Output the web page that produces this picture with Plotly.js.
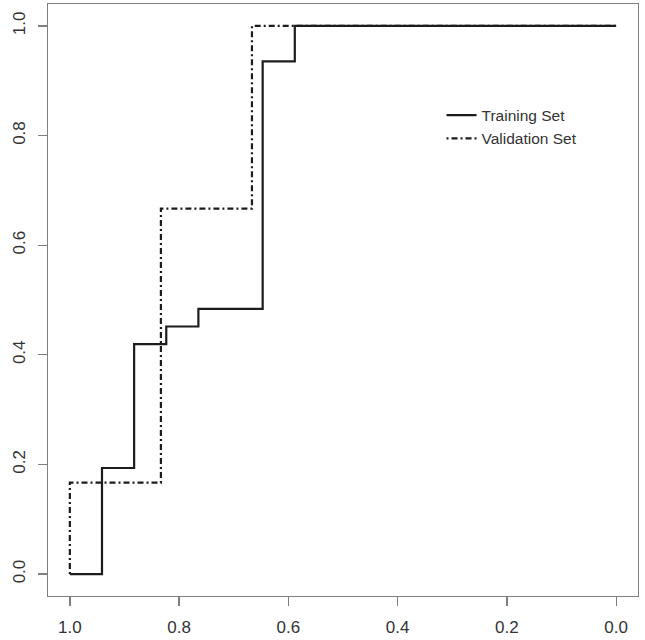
<!DOCTYPE html>
<html>
<head>
<meta charset="utf-8">
<script src="https://cdn.plot.ly/plotly-3.0.1.min.js"></script>
<style>
    body { margin: 0; background: white; }
    #chart-container-roc { width: 645px; height: 640px; }
</style>
</head>
<body>
<div id="chart-container-roc"></div>
<script>
/**
 * ROC curves, training vs validation set
 * x axis is specificity, drawn reversed (1 -> 0)
 */

let chartContainerId = 'chart-container-roc'

// Training set: 17 negatives, 31 positives
let trainSpecificity = [1, 16 / 17, 15 / 17, 14 / 17, 13 / 17, 11 / 17, 10 / 17, 0]
let trainSensitivity = [0, 6 / 31, 13 / 31, 14 / 31, 15 / 31, 29 / 31, 1, 1]

// Validation set
let validSpecificity = [1, 1, 5 / 6, 2 / 3, 0]
let validSensitivity = [0, 1 / 6, 2 / 3, 1, 1]

let seriesNames = ['Training Set', 'Validation Set']

let tickVals = [0, 0.2, 0.4, 0.6, 0.8, 1]
let tickText = ['0.0', '0.2', '0.4', '0.6', '0.8', '1.0']

let lineColor = '#1c1c1c'
let boxColor = '#808080'
let textColor = '#333333'

let traces = [
    {
        x: trainSpecificity,
        y: trainSensitivity,
        name: seriesNames[0],
        type: 'scatter',
        mode: 'lines',
        line: { shape: 'hv', color: lineColor, width: 2.2 }
    },
    {
        x: validSpecificity,
        y: validSensitivity,
        name: seriesNames[1],
        type: 'scatter',
        mode: 'lines',
        line: { shape: 'hv', color: lineColor, width: 2.2, dash: '2px,3px,6px,3px' }
    }
]

let axisDefault = {
    showgrid: false,
    zeroline: false,
    showline: true,
    mirror: true,
    linecolor: boxColor,
    linewidth: 1.3,
    ticks: 'outside',
    ticklen: 9,
    tickwidth: 1.3,
    tickcolor: boxColor,
    tickmode: 'array',
    tickvals: tickVals,
    ticktext: tickText,
    tickfont: { family: 'Liberation Sans, Arial, sans-serif', size: 17, color: textColor },
    fixedrange: true
}

let layout = {
    width: 645,
    height: 640,
    margin: { t: 4, b: 44, l: 48, r: 7 },
    paper_bgcolor: 'white',
    plot_bgcolor: 'white',
    showlegend: true,
    xaxis: { ...axisDefault, range: [1.04, -0.04], ticklabelstandoff: 6 },
    yaxis: { ...axisDefault, range: [-0.04, 1.04], tickangle: -90, ticklabelstandoff: 6 },
    legend: {
        x: 0.667,
        y: 0.792,
        xanchor: 'left',
        yanchor: 'middle',
        bgcolor: 'rgba(0,0,0,0)',
        itemwidth: 30,
        tracegroupgap: 0,
        font: { family: 'Liberation Sans, Arial, sans-serif', size: 15.5, color: textColor }
    }
}

let config = { staticPlot: true, displayModeBar: false }

Plotly.newPlot(chartContainerId, traces, layout, config)
</script>
</body>
</html>
